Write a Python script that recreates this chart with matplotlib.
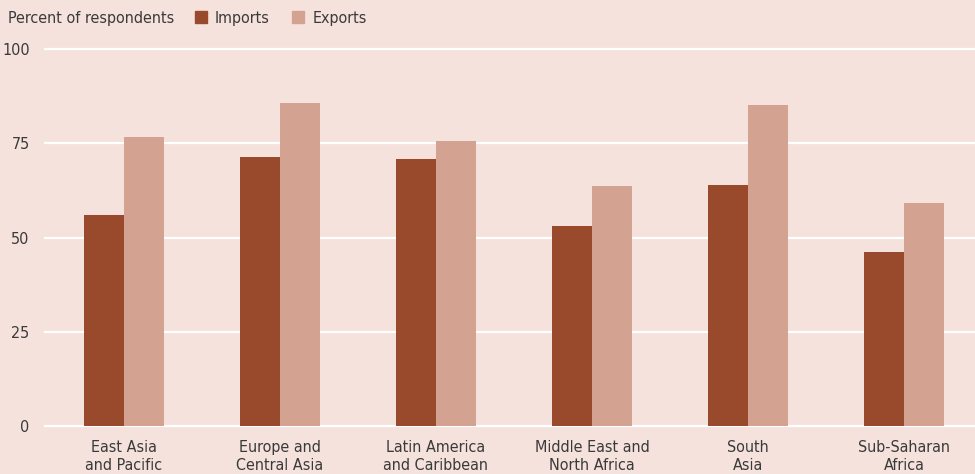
import matplotlib.pyplot as plt
import numpy as np
from matplotlib.patches import Patch

regions = ['East Asia\nand Pacific', 'Europe and\nCentral Asia', 'Latin America\nand Caribbean',
           'Middle East and\nNorth Africa', 'South\nAsia', 'Sub-Saharan\nAfrica']
imports = [56.0, 71.4, 70.8, 53.0, 63.9, 46.2]
exports = [76.7, 85.7, 75.6, 63.7, 85.1, 59.2]
yticks = [0, 25, 50, 75, 100]

bg = '#f5e2dc'
c_imp = '#9a4a2c'
c_exp = '#d4a291'
txt = '#3a3a3a'

plt.rcParams['font.family'] = ['DejaVu Sans']
plt.rcParams['font.stretch'] = 'condensed'
fs = 11.5

fig = plt.figure(figsize=(9.75, 4.74), dpi=100, facecolor=bg)
ax = fig.add_axes([45 / 975, 1 - 426 / 474, 1 - 45 / 975, (426 - 49) / 474])
ax.set_facecolor(bg)

x = np.arange(len(regions))
w = 0.256
ax.bar(x - w / 2, imports, w, color=c_imp, zorder=3)
ax.bar(x + w / 2, exports, w, color=c_exp, zorder=3)

ax.set_ylim(0, 100)
ax.set_xlim(-0.506, 5.455)
ax.set_yticks(yticks)
ax.yaxis.grid(True, color='white', linewidth=1.6, zorder=1)
for gl in ax.get_ygridlines():
    gl.set_clip_on(False)
ax.set_xticks(x)
ax.set_xticklabels(regions, fontsize=fs, color=txt, linespacing=1.2, va='baseline')
ax.tick_params(axis='both', length=0, labelsize=fs, labelcolor=txt)
ax.tick_params(axis='y', pad=11)
ax.tick_params(axis='x', pad=31.5)
for s in ax.spines.values():
    s.set_visible(False)

fig.text(8 / 975, 1 - 18 / 474, 'Percent of respondents', fontsize=fs, color=txt, va='center')
handles = [Patch(color=c_imp, label='Imports'), Patch(color=c_exp, label='Exports')]
fig.legend(handles=handles, loc='center left', bbox_to_anchor=(195 / 975, 1 - 18 / 474), ncol=2,
           frameon=False, fontsize=fs, handlelength=0.75, handleheight=0.75, handletextpad=0.5,
           columnspacing=1.4, labelcolor=txt, borderaxespad=0, borderpad=0)

fig.savefig('out.png', dpi=100, facecolor=bg)
